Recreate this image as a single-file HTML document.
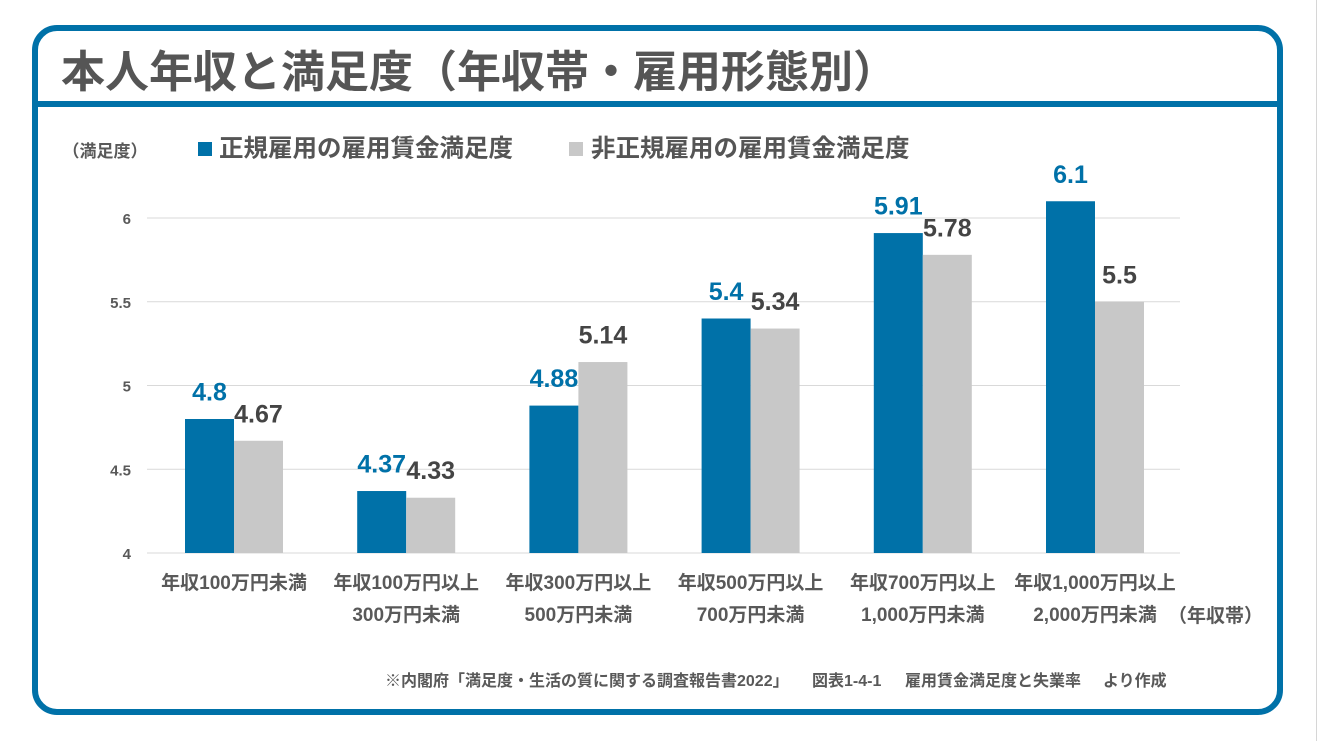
<!DOCTYPE html>
<html><head><meta charset="utf-8">
<style>
html,body{margin:0;padding:0;background:#fff;}
svg{display:block;}
text{font-family:"Liberation Sans","Noto Sans CJK JP",sans-serif;font-weight:bold;}
</style></head>
<body>
<svg width="1319" height="741" viewBox="0 0 1319 741" xmlns="http://www.w3.org/2000/svg">
<rect x="0" y="0" width="1319" height="741" fill="#fff"/>
<rect x="1316" y="0" width="1" height="741" fill="#d6d6d6"/>
<!-- frame -->
<rect x="35" y="28" width="1245" height="684" rx="22" ry="22" fill="none" stroke="#0071a8" stroke-width="6"/>
<rect x="32" y="101" width="1251" height="6" fill="#0071a8"/>
<!-- title -->
<text x="61" y="87" font-size="44" fill="#555555">本人年収と満足度（年収帯・雇用形態別）</text>
<!-- legend -->
<text x="105" y="157" font-size="17" fill="#595959" text-anchor="middle">（満足度）</text>
<rect x="198" y="142" width="14" height="14" fill="#0071a8"/>
<text x="219" y="156.5" font-size="24.5" fill="#555555">正規雇用の雇用賃金満足度</text>
<rect x="569" y="142" width="14" height="14" fill="#c8c8c8"/>
<text x="591" y="156.5" font-size="24.5" fill="#555555">非正規雇用の雇用賃金満足度</text>
<!-- gridlines -->
<g fill="#d9d9d9">
<rect x="147" y="217.5" width="1033" height="1"/>
<rect x="147" y="301.25" width="1033" height="1"/>
<rect x="147" y="385" width="1033" height="1"/>
<rect x="147" y="468.75" width="1033" height="1"/>
<rect x="147" y="552.5" width="1033" height="1"/>
</g>
<!-- y labels -->
<g font-size="15" fill="#595959" text-anchor="end">
<text x="131" y="224">6</text>
<text x="131" y="307.75">5.5</text>
<text x="131" y="391.5">5</text>
<text x="131" y="475.25">4.5</text>
<text x="131" y="559">4</text>
</g>
<!-- bars -->
<g fill="#0071a8">
<rect x="185" y="419" width="49" height="134"/>
<rect x="357.2" y="491.025" width="49" height="61.975"/>
<rect x="529.4" y="405.6" width="49" height="147.4"/>
<rect x="701.6" y="318.5" width="49" height="234.5"/>
<rect x="873.8" y="233.075" width="49" height="319.925"/>
<rect x="1046" y="201.25" width="49" height="351.75"/>
</g>
<g fill="#c8c8c8">
<rect x="234" y="440.775" width="49" height="112.225"/>
<rect x="406.2" y="497.725" width="49" height="55.275"/>
<rect x="578.4" y="362.05" width="49" height="190.95"/>
<rect x="750.6" y="328.55" width="49" height="224.45"/>
<rect x="922.8" y="254.85" width="49" height="298.15"/>
<rect x="1095" y="301.75" width="49" height="251.25"/>
</g>
<!-- value labels -->
<g font-size="25" fill="#0071a8" text-anchor="middle">
<text x="209.5" y="400.5">4.8</text>
<text x="381.7" y="472.5">4.37</text>
<text x="553.9" y="387.1">4.88</text>
<text x="726.1" y="300">5.4</text>
<text x="898.3" y="214.6">5.91</text>
<text x="1070.5" y="182.75">6.1</text>
</g>
<g font-size="25" fill="#444444" text-anchor="middle">
<text x="258.5" y="422.3">4.67</text>
<text x="430.7" y="479.2">4.33</text>
<text x="602.9" y="343.55">5.14</text>
<text x="775.1" y="310">5.34</text>
<text x="947.3" y="236.35">5.78</text>
<text x="1119.5" y="283.25">5.5</text>
</g>
<!-- x labels -->
<g font-size="19" fill="#595959" text-anchor="middle">
<text x="234" y="589">年収100万円未満</text>
<text x="406.2" y="589">年収100万円以上</text>
<text x="406.2" y="621">300万円未満</text>
<text x="578.4" y="589">年収300万円以上</text>
<text x="578.4" y="621">500万円未満</text>
<text x="750.6" y="589">年収500万円以上</text>
<text x="750.6" y="621">700万円未満</text>
<text x="922.8" y="589">年収700万円以上</text>
<text x="922.8" y="621">1,000万円未満</text>
<text x="1095" y="589">年収1,000万円以上</text>
<text x="1095" y="621">2,000万円未満</text>
<text x="1215.5" y="622">（年収帯）</text>
</g>
<!-- footnote -->
<g font-size="16" fill="#595959">
<text x="385" y="686">※内閣府「満足度・生活の質に関する調査報告書2022」</text>
<text x="812" y="686">図表1-4-1</text>
<text x="905" y="686">雇用賃金満足度と失業率</text>
<text x="1103" y="686">より作成</text>
</g>
</svg>
</body></html>
